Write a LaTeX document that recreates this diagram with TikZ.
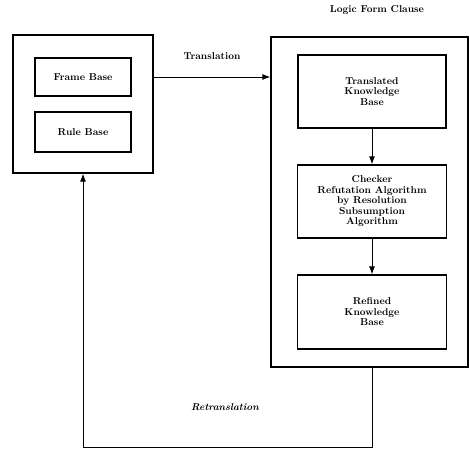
\documentclass[tikz,border=0pt]{standalone}
\usepackage{tikz}
\usetikzlibrary{arrows.meta,positioning}
\tikzset{
  outer/.style={draw,line width=1.2pt,inner sep=0pt},
  box/.style={draw,line width=1.2pt,inner sep=0pt,align=center,font=\fontsize{10}{10.5}\selectfont\bfseries},
  arr/.style={-{Latex[length=8pt,width=6pt]},line width=1pt},
  lbl/.style={font=\fontsize{10}{10.5}\selectfont\bfseries},
}
\begin{document}
\begin{tikzpicture}[x=1pt,y=-1pt]
\useasboundingbox (0,0) rectangle (469,450);
% left side: frame based knowledge
\node[outer,minimum width=140,minimum height=138] (left) at (83,104) {};
\node[box,minimum width=96,minimum height=38] (frame) at (83,77) {Frame Base};
\node[box,minimum width=96,minimum height=40] (rule) at (83,132) {Rule Base};
% right side: logic form clause
\node[outer,minimum width=197,minimum height=330] (right) at (369.5,202) {};
\node[lbl] (lfc) at (377,10) {Logic Form Clause};
\node[box,minimum width=148,minimum height=73] (tkb) at (372,91.5) {Translated\\ Knowledge\\ Base};
\node[box,minimum width=149,minimum height=73] (check) at (372,201.5) {Checker\\ Refutation Algorithm\\ by Resolution\\ Subsumption\\ Algorithm};
\node[box,minimum width=149,minimum height=74] (refined) at (372,312) {Refined\\ Knowledge\\ Base};
\draw[arr] (tkb) -- (check);
\draw[arr] (check) -- (refined);
% translation and back
\draw[arr] (left.east |- frame) -- node[lbl,above=14pt] (trans) {Translation} (right.west |- frame);
\coordinate (turn) at (83,447);
\draw[arr] (right.south -| refined) |- (turn) -- (left.south);
\node[lbl,font=\fontsize{10}{10.5}\selectfont\bfseries\itshape] (retrans) at (225,407) {Retranslation};
\end{tikzpicture}
\end{document}
